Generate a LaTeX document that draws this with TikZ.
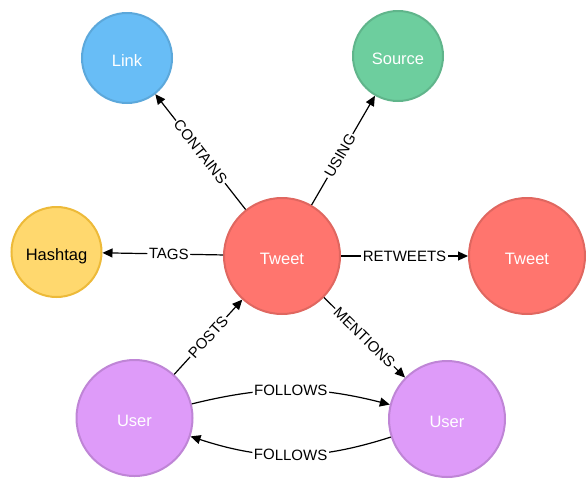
\documentclass[tikz,border=0pt]{standalone}
\usepackage{fontspec}
\setmainfont{Liberation Sans}
\usetikzlibrary{arrows.meta}
\definecolor{linkfill}{HTML}{68BDF6}
\definecolor{linkdraw}{HTML}{5CA8DB}
\definecolor{srcfill}{HTML}{6DCE9E}
\definecolor{srcdraw}{HTML}{60B58B}
\definecolor{tagfill}{HTML}{FFD86E}
\definecolor{tagdraw}{HTML}{EDBA39}
\definecolor{twfill}{HTML}{FF756E}
\definecolor{twdraw}{HTML}{E06760}
\definecolor{usrfill}{HTML}{DE9BF9}
\definecolor{usrdraw}{HTML}{BF85D6}
\begin{document}
\begin{tikzpicture}[x=1pt,y=-1pt,
  ent/.style={circle, line width=2pt, inner sep=0pt, font=\fontsize{16.5}{18}\selectfont, text=white, text height=17pt, text depth=0pt},
  smallent/.style={ent, minimum size=90pt},
  bigent/.style={ent, minimum size=116pt},
  rel/.style={line width=1.2pt, -{Triangle[length=10pt,width=9pt]}},
  lbl/.style={fill=white, inner sep=1.5pt, font=\fontsize{15}{16}\selectfont, sloped, pos=0.5}
]
\useasboundingbox (0,0) rectangle (587,480);
\node[smallent, fill=linkfill, draw=linkdraw] (link) at (127,58) {Link};
\node[smallent, fill=srcfill, draw=srcdraw] (source) at (398,56) {Source};
\node[smallent, fill=tagfill, draw=tagdraw, text=black] (hashtag) at (56.5,252) {Hashtag};
\node[bigent, fill=twfill, draw=twdraw] (tweet) at (282,256) {Tweet};
\node[bigent, fill=twfill, draw=twdraw] (tweet2) at (527,256) {Tweet};
\node[bigent, fill=usrfill, draw=usrdraw] (user1) at (134.5,418) {User};
\node[bigent, fill=usrfill, draw=usrdraw] (user2) at (447,419) {User};

\draw[rel] (tweet) -- node[lbl]{CONTAINS} (link);
\draw[rel] (tweet) -- node[lbl, pos=0.45]{USING} (source);
\draw[rel] (tweet) -- node[lbl, pos=0.45]{TAGS} (hashtag);
\draw[rel] (tweet) -- node[lbl]{RETWEETS} (tweet2);
\draw[rel] (tweet) -- node[lbl]{MENTIONS} (user2);
\draw[rel] (user1) -- node[lbl]{POSTS} (tweet);
\draw[rel] (user1) to[bend left=14] node[lbl]{FOLLOWS} (user2);
\draw[rel] (user2) to[bend left=18] node[lbl]{FOLLOWS} (user1);
\end{tikzpicture}
\end{document}
